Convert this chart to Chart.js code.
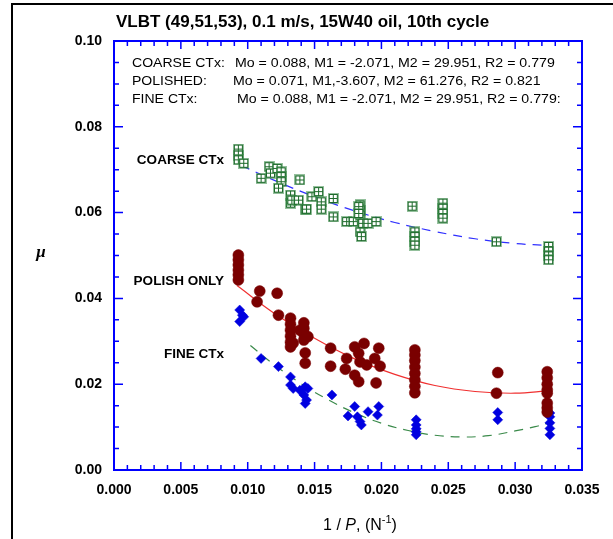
<!DOCTYPE html>
<html>
<head>
<meta charset="utf-8">
<script src="https://cdn.jsdelivr.net/npm/chart.js@4.4.1/dist/chart.umd.min.js"></script>
<style>
  html, body { margin: 0; padding: 0; background: #fff; }
  canvas { display: block; }
</style>
</head>
<body>
<canvas id="chart" width="613" height="539"></canvas>
<script>
// --- data (x = 1/P in 1/N, y = friction coefficient) ---
const coarseX = [0.0093, 0.0093, 0.0093, 0.0097, 0.0110, 0.0116, 0.0117, 0.0122, 0.0125, 0.0125, 0.0125,
  0.0123, 0.0139, 0.0132, 0.0132, 0.0133, 0.0138, 0.0143, 0.0144, 0.0148, 0.0153, 0.0155, 0.0155,
  0.0164, 0.0164, 0.0174, 0.0179, 0.0184, 0.0184, 0.0184, 0.0184, 0.0183, 0.0183, 0.0185, 0.0186,
  0.0190, 0.0196, 0.0223, 0.0225, 0.0225, 0.0225, 0.0225, 0.0246, 0.0246, 0.0246, 0.0246, 0.0286,
  0.0325, 0.0325, 0.0325, 0.0325];
const coarseY = [0.0748, 0.0734, 0.0723, 0.0715, 0.0680, 0.0707, 0.0692, 0.0703, 0.0695, 0.0684, 0.0672,
  0.0657, 0.0676, 0.0641, 0.0622, 0.0629, 0.0629, 0.0608, 0.0608, 0.0637, 0.0649, 0.0625, 0.0608,
  0.0633, 0.0590, 0.0579, 0.0579, 0.0618, 0.0606, 0.0594, 0.0555, 0.0614, 0.0598, 0.0544, 0.0575,
  0.0575, 0.0579, 0.0615, 0.0555, 0.0544, 0.0533, 0.0524, 0.0622, 0.0610, 0.0598, 0.0587, 0.0532,
  0.0521, 0.0510, 0.0499, 0.0490];

const polishX = [0.0093, 0.0093, 0.0093, 0.0093, 0.0093, 0.0093, 0.0109, 0.0122, 0.0107, 0.0123,
  0.0132, 0.0132, 0.0132, 0.0132, 0.0132, 0.0132, 0.0134, 0.0139, 0.0142, 0.0142, 0.0142, 0.0142,
  0.0145, 0.0143, 0.0143, 0.0162, 0.0162, 0.0180, 0.0187, 0.0183, 0.0174, 0.0184, 0.0189, 0.0198,
  0.0195, 0.0199, 0.0173, 0.0180, 0.0183, 0.0196, 0.0225, 0.0225, 0.0225, 0.0225, 0.0225, 0.0225,
  0.0225, 0.0225, 0.0287, 0.0286, 0.0324, 0.0324, 0.0324, 0.0324, 0.0324, 0.0324, 0.0324, 0.0324];
const polishY = [0.0501, 0.0490, 0.0478, 0.0466, 0.0455, 0.0443, 0.0417, 0.0412, 0.0392, 0.0361,
  0.0354, 0.0340, 0.0326, 0.0312, 0.0298, 0.0287, 0.0296, 0.0326, 0.0343, 0.0330, 0.0317, 0.0303,
  0.0311, 0.0273, 0.0249, 0.0284, 0.0242, 0.0287, 0.0295, 0.0272, 0.0260, 0.0252, 0.0245, 0.0284,
  0.0260, 0.0242, 0.0235, 0.0221, 0.0206, 0.0203, 0.0280, 0.0268, 0.0255, 0.0240, 0.0225, 0.0210,
  0.0195, 0.0180, 0.0227, 0.0179, 0.0229, 0.0215, 0.0200, 0.0187, 0.0179, 0.0156, 0.0145, 0.0135];

const fineX = [0.0094, 0.0094, 0.0096, 0.0097, 0.0110, 0.0123, 0.0132, 0.0132, 0.0134, 0.0139,
  0.0143, 0.0143, 0.0145, 0.0142, 0.0144, 0.0163, 0.0180, 0.0175, 0.0182, 0.0184, 0.0185, 0.0190,
  0.0198, 0.0197, 0.0226, 0.0226, 0.0226, 0.0226, 0.0226, 0.0287, 0.0287, 0.0326, 0.0326, 0.0326,
  0.0326, 0.0326];
const fineY = [0.0373, 0.0346, 0.0361, 0.0357, 0.0260, 0.0241, 0.0217, 0.0198, 0.0190, 0.0186,
  0.0194, 0.0155, 0.0190, 0.0175, 0.0163, 0.0175, 0.0148, 0.0126, 0.0124, 0.0113, 0.0105, 0.0136,
  0.0148, 0.0128, 0.0117, 0.0105, 0.0096, 0.0089, 0.0082, 0.0134, 0.0117, 0.0133, 0.0124, 0.0110,
  0.0097, 0.0082];

// fitted curves
const coarseFitX = [0.0095, 0.012, 0.015, 0.018, 0.021, 0.024, 0.027, 0.030, 0.0327];
const coarseFitY = [0.0710, 0.0675, 0.0637, 0.0604, 0.0577, 0.0556, 0.0539, 0.0528, 0.0523];
const polishFitX = [0.0092, 0.012, 0.015, 0.018, 0.021, 0.024, 0.027, 0.030, 0.0325];
const polishFitY = [0.0430, 0.0365, 0.0307, 0.0259, 0.0223, 0.0197, 0.0183, 0.0179, 0.0185];
const fineFitX = [0.0102, 0.012, 0.014, 0.016, 0.018, 0.020, 0.022, 0.024, 0.026, 0.028, 0.030, 0.0315, 0.0325];
const fineFitY = [0.0290, 0.0245, 0.0201, 0.0164, 0.0133, 0.0109, 0.0092, 0.0081, 0.0077, 0.0080, 0.0091, 0.0101, 0.0110];

const xTicks = [0, 0.005, 0.010, 0.015, 0.020, 0.025, 0.030, 0.035];
const yTicks = [0, 0.02, 0.04, 0.06, 0.08, 0.10];

const TITLE = "VLBT (49,51,53), 0.1 m/s, 15W40 oil, 10th cycle";
const FIT_LINES = [
  ["COARSE CTx:", "Mo = 0.088, M1 = -2.071, M2 = 29.951, R2 = 0.779"],
  ["POLISHED:", "Mo = 0.071, M1,-3.607, M2 = 61.276, R2 = 0.821"],
  ["FINE CTx:", "Mo = 0.088, M1 = -2.071, M2 = 29.951, R2 = 0.779:"],
];

const FONT = "'Liberation Sans', Arial, sans-serif";

function zip(xs, ys) {
  return xs.map((x, i) => ({ x, y: ys[i] }));
}

// green square with 2x2 white cells
function gridMarker() {
  const c = document.createElement("canvas");
  c.width = 11;
  c.height = 11;
  const g = c.getContext("2d");
  g.fillStyle = "rgba(60,140,75,0.55)";
  g.fillRect(0, 0, 11, 11);
  g.fillStyle = "#1d6a2b";
  g.fillRect(1, 1, 9, 9);
  g.fillStyle = "#fff";
  for (const [px, py] of [[2, 2], [6, 2], [2, 6], [6, 6]]) g.fillRect(px, py, 3, 3);
  return c;
}

function stretchText(ctx, s, x, y, font, sx, align) {
  ctx.save();
  ctx.font = font;
  ctx.textAlign = align || "left";
  ctx.textBaseline = "middle";
  ctx.translate(x, y);
  ctx.scale(sx, 1);
  ctx.fillText(s, 0, 0);
  ctx.restore();
}

const decor = {
  id: "decor",
  afterDraw(chart) {
    const { ctx, chartArea: a, scales } = chart;
    const xs = scales.x, ys = scales.y;
    ctx.save();

    // page frame pieces
    ctx.strokeStyle = "#000";
    ctx.lineWidth = 2;
    ctx.beginPath();
    ctx.moveTo(12, 539);
    ctx.lineTo(12, 4);
    ctx.lineTo(613, 4);
    ctx.stroke();

    // blue plot box
    ctx.strokeStyle = "#0000ff";
    ctx.lineWidth = 2;
    ctx.strokeRect(a.left, a.top, a.right - a.left, a.bottom - a.top);

    // inward ticks on all four sides
    ctx.lineWidth = 1.5;
    ctx.beginPath();
    for (let i = 0; i <= 35; i++) {
      const px = xs.getPixelForValue(i / 1000);
      const len = i % 5 === 0 ? 8 : 5;
      ctx.moveTo(px, a.bottom); ctx.lineTo(px, a.bottom - len);
      ctx.moveTo(px, a.top); ctx.lineTo(px, a.top + len);
    }
    for (let i = 0; i <= 20; i++) {
      const py = ys.getPixelForValue(i * 0.005);
      const len = i % 4 === 0 ? 9 : 5;
      ctx.moveTo(a.left, py); ctx.lineTo(a.left + len, py);
      ctx.moveTo(a.right, py); ctx.lineTo(a.right - len, py);
    }
    ctx.stroke();

    ctx.fillStyle = "#000";
    // title
    stretchText(ctx, TITLE, 116, 22, "bold 17px " + FONT, 1.0);

    // fit coefficients
    const starts = [235, 233, 237];
    FIT_LINES.forEach((ln, i) => {
      const y = 63 + i * 18;
      stretchText(ctx, ln[0], 132, y, "13px " + FONT, 1.08);
      stretchText(ctx, ln[1], starts[i], y, "13px " + FONT, 1.09);
    });

    // series labels
    stretchText(ctx, "COARSE CTx", 224, 160, "bold 13px " + FONT, 1.04, "right");
    stretchText(ctx, "POLISH ONLY", 224, 281, "bold 13px " + FONT, 1.04, "right");
    stretchText(ctx, "FINE CTx", 224, 354, "bold 13px " + FONT, 1.04, "right");

    // y axis title
    ctx.font = "italic bold 17px 'Liberation Serif', serif";
    ctx.textAlign = "center";
    ctx.textBaseline = "middle";
    ctx.fillText("\u03bc", 41, 253);

    // x axis title: 1 / P, (N^-1)
    const parts = [
      ["1 / ", "16px " + FONT, 0],
      ["P", "italic 16px " + FONT, 0],
      [", (N", "16px " + FONT, 0],
      ["-1", "11px " + FONT, -6],
      [")", "16px " + FONT, 0],
    ];
    ctx.textAlign = "left";
    let total = 0;
    for (const p of parts) { ctx.font = p[1]; total += ctx.measureText(p[0]).width; }
    let cx = 360 - total / 2;
    for (const p of parts) {
      ctx.font = p[1];
      ctx.fillText(p[0], cx, 526 + p[2]);
      cx += ctx.measureText(p[0]).width;
    }
    ctx.restore();
  },
};

const tickFont = { family: FONT, size: 14, weight: "bold" };

new Chart(document.getElementById("chart"), {
  type: "scatter",
  data: {
    datasets: [
      {
        label: "COARSE CTx",
        data: zip(coarseX, coarseY),
        pointStyle: gridMarker(),
        pointRadius: 5,
      },
      {
        label: "POLISH ONLY",
        data: zip(polishX, polishY),
        pointStyle: "circle",
        pointRadius: 5.5,
        backgroundColor: "#7a0000",
        borderColor: "#7a0000",
        borderWidth: 0.5,
      },
      {
        label: "FINE CTx",
        data: zip(fineX, fineY),
        pointStyle: "rectRot",
        pointRadius: 5,
        backgroundColor: "#0000e0",
        borderColor: "#0000e0",
        borderWidth: 0.5,
      },
      {
        label: "coarse fit",
        data: zip(coarseFitX, coarseFitY),
        showLine: true,
        pointRadius: 0,
        borderColor: "#3030ff",
        borderWidth: 1.2,
        borderDash: [9, 7],
        tension: 0.4,
      },
      {
        label: "polish fit",
        data: zip(polishFitX, polishFitY),
        showLine: true,
        pointRadius: 0,
        borderColor: "#f03030",
        borderWidth: 1.2,
        tension: 0.4,
      },
      {
        label: "fine fit",
        data: zip(fineFitX, fineFitY),
        showLine: true,
        pointRadius: 0,
        borderColor: "#3a8a4a",
        borderWidth: 1.2,
        borderDash: [9, 7],
        tension: 0.4,
      },
    ],
  },
  options: {
    responsive: false,
    animation: false,
    layout: { padding: { left: 0, top: 41, right: 31, bottom: 0 } },
    plugins: { legend: { display: false }, tooltip: { enabled: false } },
    scales: {
      x: {
        type: "linear",
        min: 0,
        max: 0.035,
        afterFit: (s) => { s.height = 69; },
        afterBuildTicks: (s) => { s.ticks = xTicks.map((v) => ({ value: v })); },
        ticks: {
          autoSkip: false,
          maxRotation: 0,
          padding: 12,
          color: "#000",
          font: tickFont,
          callback: (v) => Number(v).toFixed(3),
        },
        grid: { display: false, drawTicks: false },
        border: { display: false },
      },
      y: {
        type: "linear",
        min: 0,
        max: 0.1,
        afterFit: (s) => { s.width = 114; },
        afterBuildTicks: (s) => { s.ticks = yTicks.map((v) => ({ value: v })); },
        ticks: {
          padding: 12,
          color: "#000",
          font: tickFont,
          callback: (v) => Number(v).toFixed(2),
        },
        grid: { display: false, drawTicks: false },
        border: { display: false },
      },
    },
  },
  plugins: [decor],
});
</script>
</body>
</html>
